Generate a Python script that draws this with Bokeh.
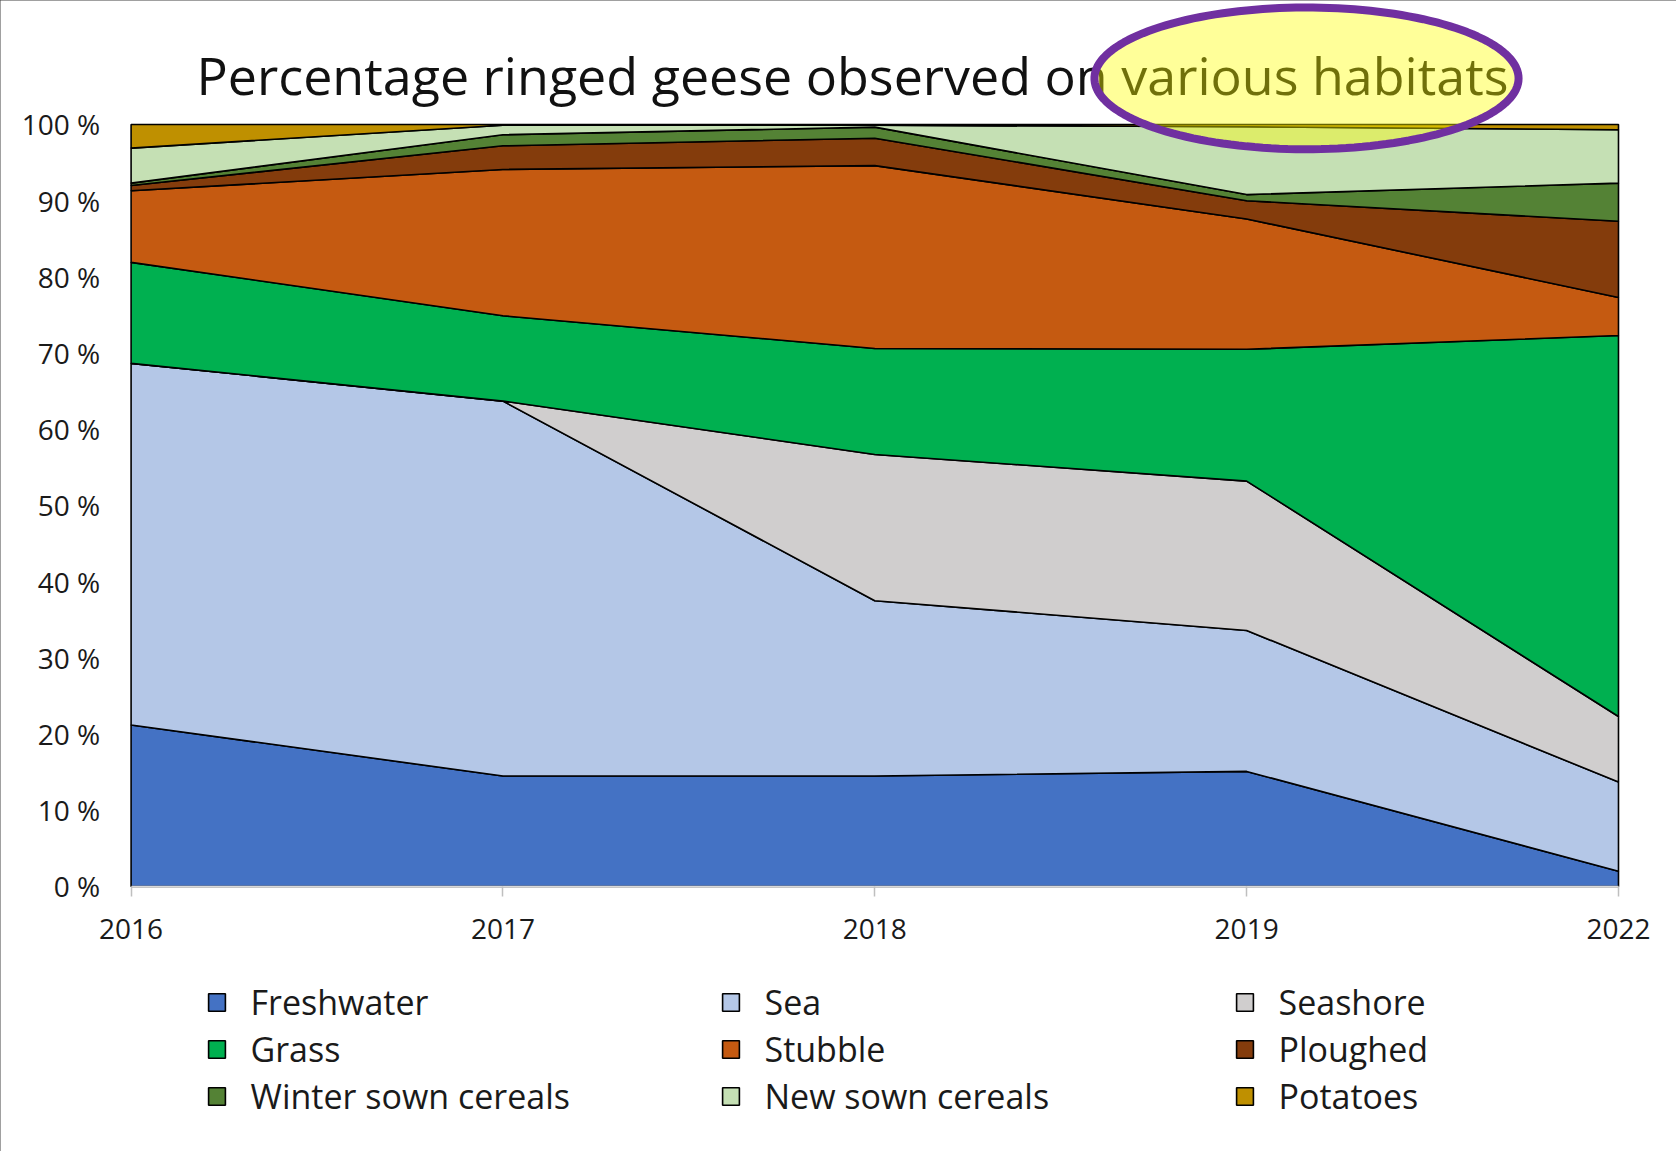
import numpy as np
from bokeh.plotting import figure
from bokeh.models import Range1d, FixedTicker, Legend, LegendItem, Label, PolyAnnotation
from bokeh.embed import file_html
from bokeh.resources import INLINE

# ---- data (percent of ringed geese per habitat) ----
years = ["2016", "2017", "2018", "2019", "2022"]
habitats = ["Freshwater", "Sea", "Seashore", "Grass", "Stubble", "Ploughed",
            "Winter sown cereals", "New sown cereals", "Potatoes"]
freshwater = [21.2, 14.5, 14.5, 15.1, 2.0]
sea = [47.45, 49.2, 23.0, 18.5, 11.7]
seashore = [0.0, 0.0, 19.2, 19.6, 8.6]
grass = [13.25, 11.2, 13.9, 17.3, 50.0]
stubble = [9.4, 19.2, 24.0, 17.1, 5.0]
ploughed = [0.7, 3.1, 3.6, 2.4, 10.0]
winter_sown = [0.3, 1.45, 1.45, 0.8, 5.0]
new_sown = [4.6, 1.25, 0.25, 8.9, 7.0]
potatoes = [3.1, 0.1, 0.1, 0.3, 0.7]
series = [freshwater, sea, seashore, grass, stubble, ploughed, winter_sown, new_sown, potatoes]
colors = ["#4472C4", "#B4C7E7", "#D0CECE", "#00B050", "#C55A11", "#843C0C",
          "#548235", "#C5E0B4", "#BF9000"]
y_ticks = list(range(0, 101, 10))
y_tick_labels = [f"{t} %" for t in y_ticks]
title_text = "Percentage ringed geese observed on various habitats"

FONT = "Open Sans"
TXT = "#1a1a1a"

W, H = 1676, 1151
x = list(range(len(years)))
# frame covers the whole canvas so that title, highlight and legend are not clipped
p = figure(width=W, height=H, title=None,
           x_range=Range1d(-0.3512, 4.156), y_range=Range1d(-34.78, 116.27),
           output_backend="svg", toolbar_location=None, min_border=0)
p.outline_line_color = None
p.grid.visible = False
p.background_fill_color = "white"
p.border_fill_color = "white"
p.styles = {"outline": "2px solid #404040", "outline-offset": "-2px"}

# stacked areas
lower = np.zeros(len(years))
renderers = []
for vals, col in zip(series, colors):
    upper = lower + np.array(vals)
    xs = x + x[::-1]
    ys = list(upper) + list(lower[::-1])
    r = p.patch(xs, ys, fill_color=col, line_color="black", line_width=1.6)
    renderers.append(r)
    lower = upper

# axes, pinned to the data origin
xa = p.xaxis[0]
xa.fixed_location = 0
xa.bounds = (0, len(years) - 1)
xa.ticker = FixedTicker(ticks=x)
xa.major_label_overrides = {i: y for i, y in zip(x, years)}
xa.minor_tick_line_color = None
xa.axis_line_color = "#D9D9D9"
xa.axis_line_width = 1.5
xa.major_tick_line_color = "#BFBFBF"
xa.major_tick_line_width = 1.5
xa.major_tick_in = 0
xa.major_tick_out = 10
xa.major_label_standoff = 23
xa.major_label_text_font = FONT
xa.major_label_text_font_size = "28px"
xa.major_label_text_color = TXT

ya = p.yaxis[0]
ya.fixed_location = 0
ya.bounds = (0, 100)
ya.ticker = FixedTicker(ticks=y_ticks)
ya.major_label_overrides = {t: l for t, l in zip(y_ticks, y_tick_labels)}
ya.minor_tick_line_color = None
ya.axis_line_color = None
ya.major_tick_line_color = None
ya.major_tick_in = 0
ya.major_tick_out = 0
ya.major_label_standoff = 31
ya.major_label_text_font = FONT
ya.major_label_text_font_size = "28px"
ya.major_label_text_color = TXT

# title
p.add_layout(Label(x=1.940, y=106.6, text=title_text, text_align="center",
                   text_baseline="alphabetic", text_font=FONT,
                   text_font_size="52px", text_color="#111111"))

# highlight ellipse around "various habitats"
t = np.linspace(0, 2 * np.pi, 160)
cx, cy, ax_, ay_ = 3.161, 106.05, 0.5703, 9.30
p.add_layout(PolyAnnotation(xs=list(cx + ax_ * np.cos(t)), ys=list(cy + ay_ * np.sin(t)),
                            fill_color="yellow", fill_alpha=0.4,
                            line_color="#7030A0", line_alpha=1.0, line_width=8))

# legend (3 x 3, row-major)
items = [LegendItem(label=h, renderers=[r]) for h, r in zip(habitats, renderers)]
legend = Legend(items=items, orientation="horizontal", ncols=3,
                location=(205.5, 31.5), padding=0, margin=0, spacing=0,
                glyph_width=21, glyph_height=22, label_standoff=24,
                label_width=469, label_height=47,
                label_text_font=FONT, label_text_font_size="34px",
                label_text_color=TXT, background_fill_alpha=0,
                border_line_color=None)
p.add_layout(legend)

open("out.html", "w").write(file_html(p, INLINE))
